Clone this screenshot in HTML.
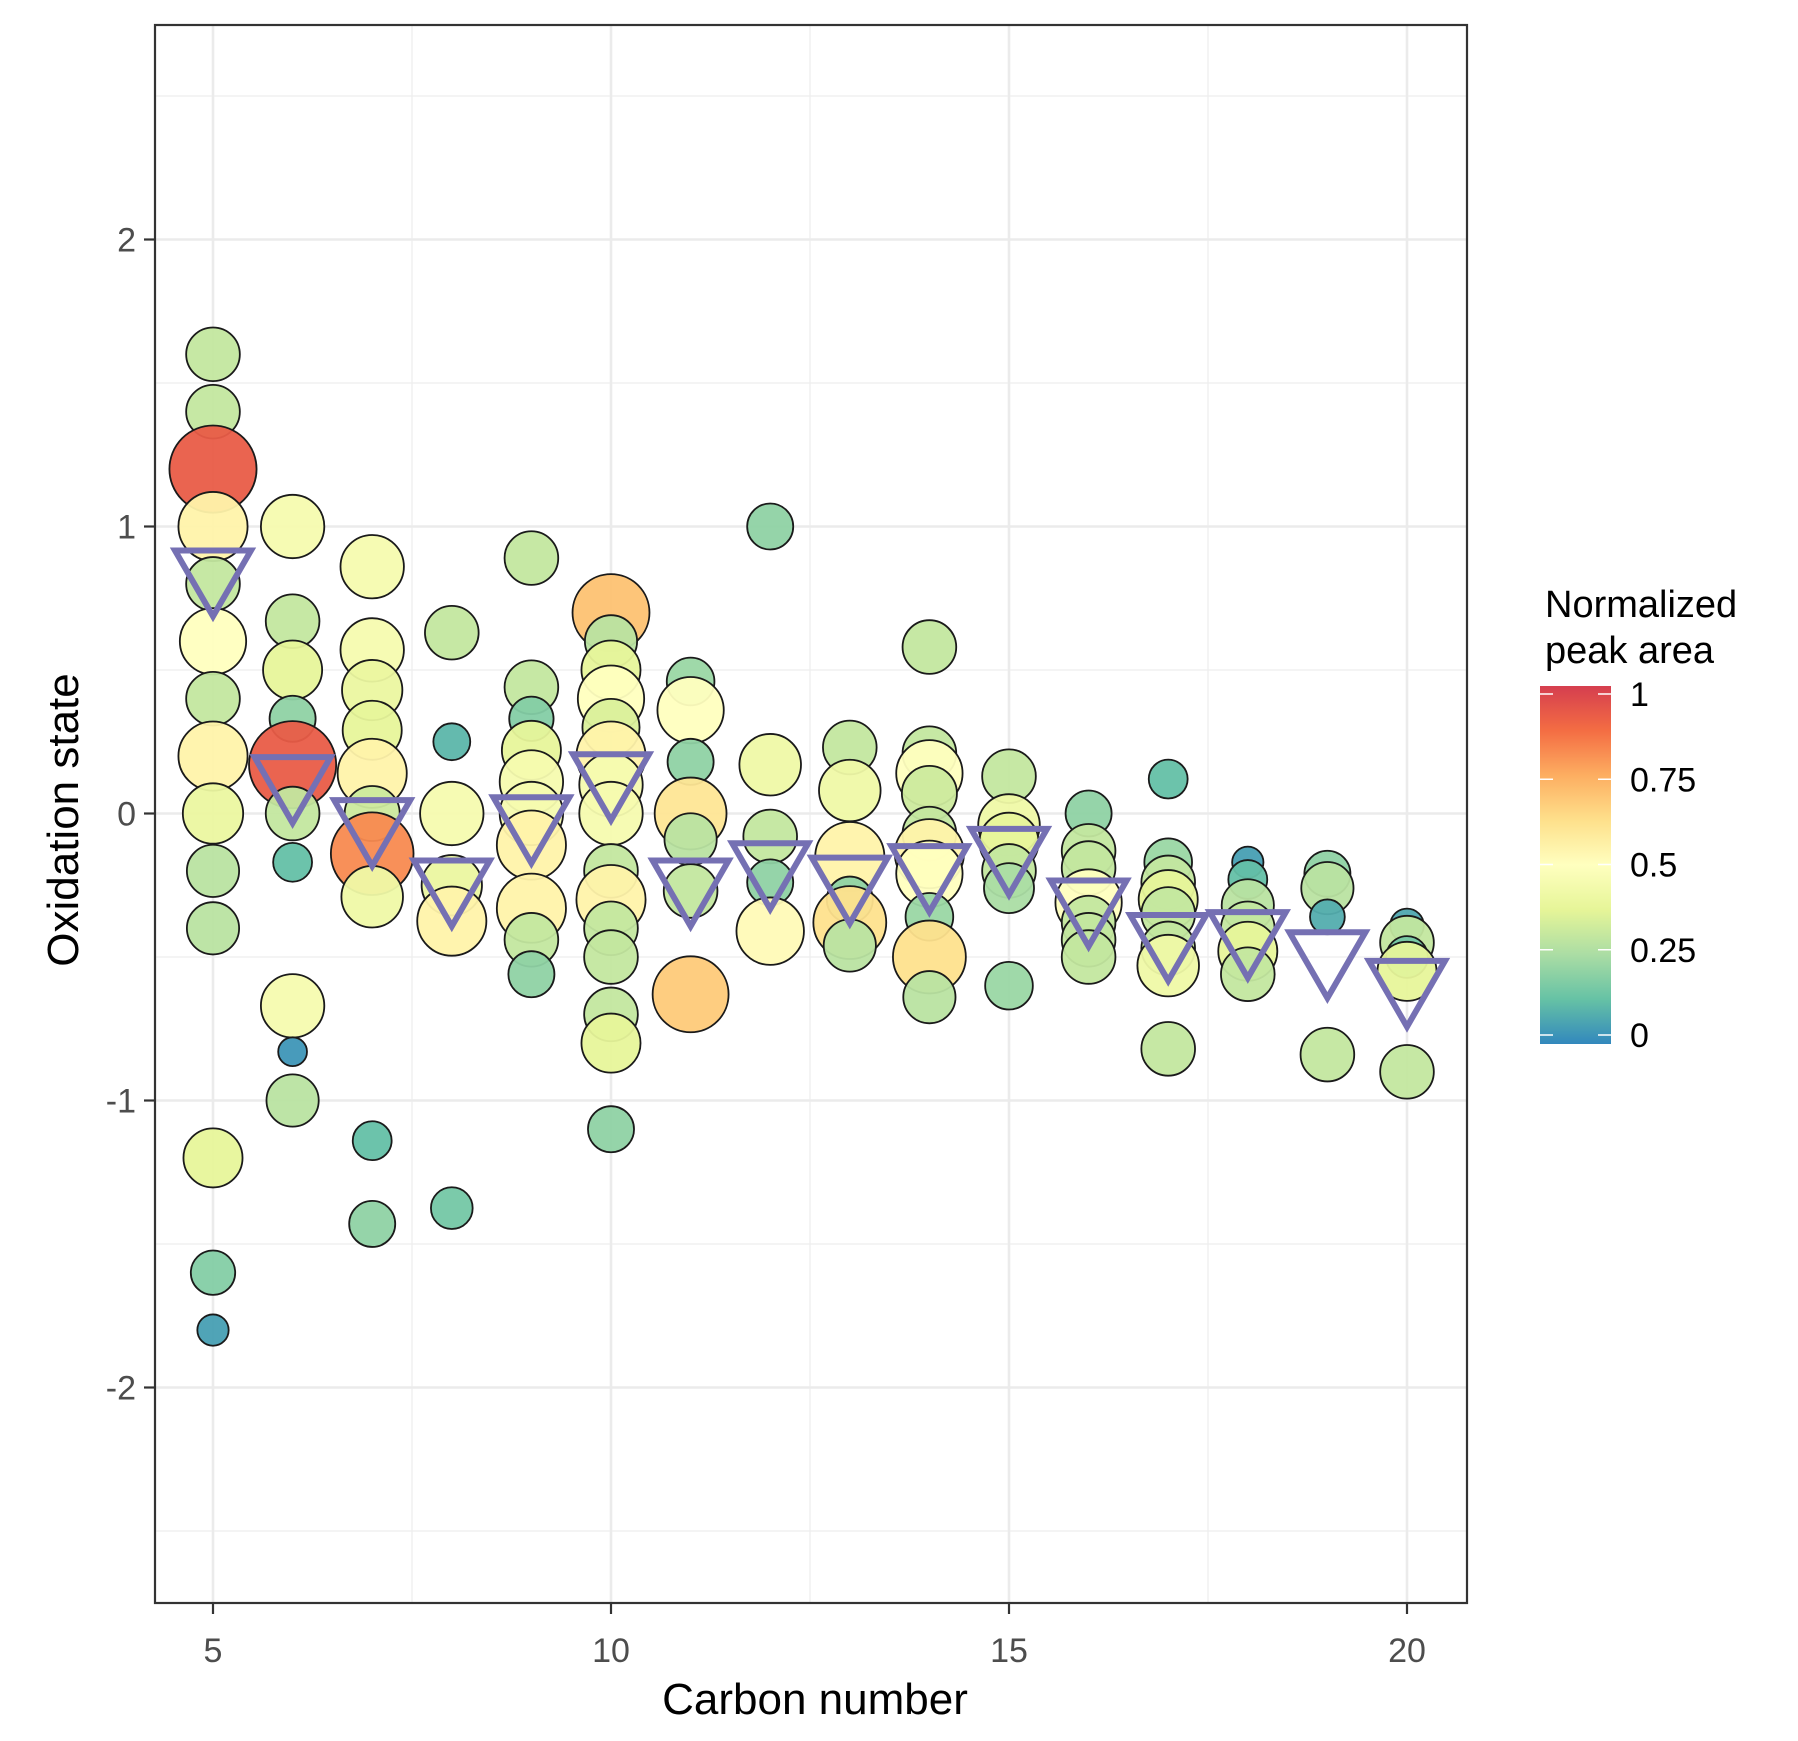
<!DOCTYPE html>
<html><head><meta charset="utf-8">
<style>
html,body{margin:0;padding:0;background:#fff;}
svg{display:block;font-family:"Liberation Sans",Arial,sans-serif;}
</style></head>
<body>
<svg id="chart" width="1798" height="1741" viewBox="0 0 1798 1741" xmlns="http://www.w3.org/2000/svg">
<defs>
<linearGradient id="cbar" x1="0" y1="1" x2="0" y2="0">
<stop offset="0" stop-color="#3288BD"/><stop offset="0.125" stop-color="#66C2A5"/>
<stop offset="0.25" stop-color="#ABDDA4"/><stop offset="0.375" stop-color="#E6F598"/>
<stop offset="0.5" stop-color="#FFFFBF"/><stop offset="0.625" stop-color="#FEE08B"/>
<stop offset="0.75" stop-color="#FDAE61"/><stop offset="0.875" stop-color="#F46D43"/>
<stop offset="1" stop-color="#D53E4F"/>
</linearGradient>
</defs>
<g id="grid"></g>
<g id="points"></g>
<g id="tris"></g>
<rect x="155" y="25" width="1312" height="1578" fill="none" stroke="#333" stroke-width="2.2"/>
<g id="axes"></g>
<text x="815" y="1714" font-size="44" text-anchor="middle" fill="#000">Carbon  number</text>
<text x="0" y="0" font-size="44" text-anchor="middle" fill="#000" transform="translate(78,820) rotate(-90)">Oxidation state</text>
<g>
<text x="1545" y="617" font-size="38" fill="#000">Normalized</text>
<text x="1545" y="663" font-size="38" fill="#000">peak area</text>
<rect x="1540" y="686" width="71" height="358" fill="url(#cbar)"/>
<g id="legendTicks"></g>
</g>
</svg>
<script>
const NS="http://www.w3.org/2000/svg";
// data
const carbonX=[5,5,5,5,5,5,5,5,5,5,5,5,5,5,
6,6,6,6,6,6,6,6,6,6,
7,7,7,7,7,7,7,7,7,7,
8,8,8,8,8,8,
9,9,9,9,9,9,9,9,9,9,
10,10,10,10,10,10,10,10,10,10,10,10,10,10,10,
11,11,11,11,11,11,11,
12,12,12,12,12,
13,13,13,13,13,13,
14,14,14,14,14,14,14,14,14,14,
15,15,15,15,15,15,
16,16,16,16,16,16,16,
17,17,17,17,17,17,17,17,
18,18,18,18,18,18,
19,19,19,19,
20,20,20,20,20];
const oxState=[1.6,1.4,1.2,1.0,0.8,0.6,0.4,0.2,0,-0.2,-0.4,-1.2,-1.6,-1.8,
1.0,0.67,0.5,0.33,0.17,0,-0.17,-0.67,-0.83,-1.0,
0.86,0.57,0.43,0.29,0.14,0,-0.14,-0.29,-1.14,-1.43,
0.63,0.25,0,-0.25,-0.375,-1.375,
0.89,0.44,0.33,0.22,0.11,0,-0.11,-0.33,-0.44,-0.56,
0.7,0.6,0.5,0.4,0.3,0.2,0.1,0,-0.2,-0.3,-0.4,-0.5,-0.7,-0.8,-1.1,
0.46,0.36,0.18,0,-0.09,-0.27,-0.63,
1.0,0.17,-0.08,-0.24,-0.41,
0.23,0.08,-0.15,-0.3,-0.38,-0.46,
0.58,0.21,0.14,0.07,-0.07,-0.14,-0.21,-0.36,-0.5,-0.64,
0.13,-0.04,-0.1,-0.2,-0.26,-0.6,
0,-0.13,-0.19,-0.31,-0.38,-0.44,-0.5,
0.12,-0.17,-0.24,-0.3,-0.35,-0.47,-0.53,-0.82,
-0.17,-0.23,-0.32,-0.4,-0.48,-0.56,
-0.21,-0.26,-0.36,-0.84,
-0.39,-0.45,-0.5,-0.55,-0.9];
const peakArea=[0.3,0.3,0.92,0.55,0.3,0.5,0.3,0.55,0.4,0.28,0.28,0.38,0.18,0.05,
0.45,0.3,0.38,0.2,0.92,0.3,0.12,0.45,0.03,0.28,
0.45,0.45,0.4,0.38,0.55,0.32,0.82,0.42,0.12,0.2,
0.3,0.1,0.45,0.4,0.55,0.15,
0.3,0.3,0.18,0.38,0.45,0.45,0.55,0.55,0.3,0.2,
0.7,0.28,0.38,0.5,0.35,0.55,0.45,0.45,0.3,0.55,0.3,0.3,0.3,0.38,0.2,
0.22,0.5,0.2,0.6,0.28,0.3,0.68,
0.2,0.42,0.3,0.2,0.52,
0.3,0.42,0.55,0.2,0.62,0.28,
0.3,0.3,0.5,0.32,0.3,0.55,0.5,0.22,0.62,0.28,
0.3,0.42,0.38,0.3,0.25,0.22,
0.2,0.3,0.3,0.5,0.3,0.3,0.3,
0.12,0.22,0.3,0.38,0.3,0.3,0.42,0.3,
0.05,0.12,0.28,0.3,0.38,0.3,
0.2,0.28,0.08,0.3,
0.07,0.3,0.15,0.38,0.3];
const meanX=[5,6,7,8,9,10,11,12,13,14,15,16,17,18,19,20];
const meanOx=[0.84,0.12,-0.03,-0.24,-0.02,0.13,-0.24,-0.18,-0.23,-0.19,-0.13,-0.31,-0.43,-0.42,-0.49,-0.59];
const xTicks=[5,10,15,20];
const xMinor=[7.5,12.5,17.5];
const yTicks=[-2,-1,0,1,2];
const yMinor=[-2.5,-1.5,-0.5,0.5,1.5,2.5];
const legendTicks=[0,0.25,0.5,0.75,1];

const px=v=>213+(v-5)*(1407-213)/15;
const py=v=>813.5-287*v;
const ly=v=>1035-(1035-694)*v;
const pal=["#3288BD","#66C2A5","#ABDDA4","#E6F598","#FFFFBF","#FEE08B","#FDAE61","#F46D43","#D53E4F"];
function col(v){v=Math.max(0,Math.min(1,v));const t=v*8,i=Math.min(7,Math.floor(t)),f=t-i;
 const a=pal[i],b=pal[i+1];const c=k=>Math.round(parseInt(a.substr(k,2),16)*(1-f)+parseInt(b.substr(k,2),16)*f);
 return `rgb(${c(1)},${c(3)},${c(5)})`;}
const rad=v=>Math.sqrt(150+1900*v);
function mk(t,attrs,parent){const e=document.createElementNS(NS,t);for(const k in attrs)e.setAttribute(k,attrs[k]);parent.appendChild(e);return e;}

const grid=document.getElementById('grid');
xMinor.forEach(v=>{const l=mk('line',{x1:px(v),x2:px(v),y1:25,y2:1603,stroke:'#EEEEEE','stroke-width':1.3},grid);

});
yMinor.forEach(v=>{const l=mk('line',{x1:155,x2:1467,y1:py(v),y2:py(v),stroke:'#EEEEEE','stroke-width':1.3},grid);

});
xTicks.forEach(v=>{const l=mk('line',{x1:px(v),x2:px(v),y1:25,y2:1603,stroke:'#EBEBEB','stroke-width':2.6},grid);

});
yTicks.forEach(v=>{const l=mk('line',{x1:155,x2:1467,y1:py(v),y2:py(v),stroke:'#EBEBEB','stroke-width':2.6},grid);

});

const pts=document.getElementById('points');
carbonX.forEach((x,i)=>{const c=mk('circle',{cx:px(x),cy:py(oxState[i]),r:rad(peakArea[i]),fill:col(peakArea[i]),'fill-opacity':0.95,stroke:'#1a1a1a','stroke-width':1.8},pts);

});

const tris=document.getElementById('tris');
const S=76,H=S*Math.sqrt(3)/2;
meanX.forEach((x,i)=>{const cx=px(x),cy=py(meanOx[i]);
const p=mk('polygon',{points:`${cx-S/2},${cy-H/3} ${cx+S/2},${cy-H/3} ${cx},${cy+2*H/3}`,fill:'none',stroke:'#7570B3','stroke-width':6,'stroke-linejoin':'miter'},tris);

});

const axes=document.getElementById('axes');
xTicks.forEach(v=>{const l=mk('line',{x1:px(v),x2:px(v),y1:1603,y2:1614,stroke:'#333','stroke-width':2.2},axes);


const t=mk('text',{x:px(v),y:1662,'font-size':34,'text-anchor':'middle',fill:'#4D4D4D'},axes);t.textContent=v;

});
yTicks.forEach(v=>{const l=mk('line',{x1:144,x2:155,y1:py(v),y2:py(v),stroke:'#333','stroke-width':2.2},axes);


const t=mk('text',{x:136,y:py(v)+12,'font-size':34,'text-anchor':'end',fill:'#4D4D4D'},axes);t.textContent=v;

});

const lt=document.getElementById('legendTicks');
legendTicks.forEach(v=>{const y=ly(v);
const a=mk('line',{x1:1540,x2:1553,y1:y,y2:y,stroke:'#fff','stroke-width':1.5},lt);


const b=mk('line',{x1:1598,x2:1611,y1:y,y2:y,stroke:'#fff','stroke-width':1.5},lt);


const t=mk('text',{x:1630,y:y+12,'font-size':34,fill:'#000'},lt);t.textContent=v;

});
</script>
</body></html>
